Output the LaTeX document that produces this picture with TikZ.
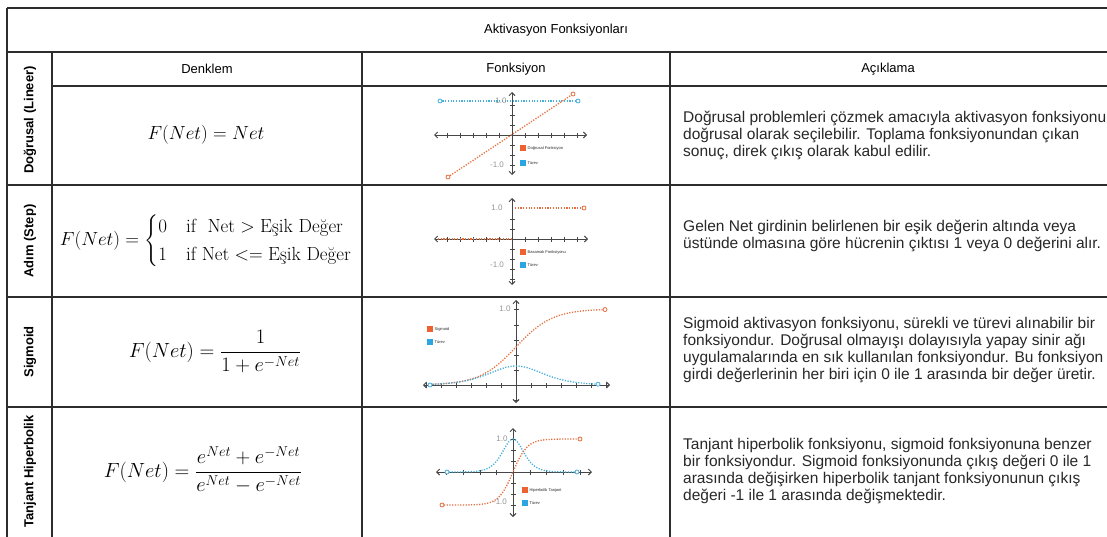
\RequirePackage{fix-cm}
\documentclass[tikz,border=0pt]{standalone}
\usepackage{amsmath}
\usepackage{fontspec}
\setsansfont{Liberation Sans}
\usetikzlibrary{arrows.meta}

\definecolor{gridline}{RGB}{45,45,45}
\definecolor{txt}{RGB}{40,40,40}
\definecolor{curveorange}{RGB}{228,110,62}
\definecolor{curveblue}{RGB}{70,175,220}
\definecolor{keyorange}{RGB}{236,98,48}
\definecolor{keyblue}{RGB}{45,165,225}
\definecolor{axisgray}{RGB}{70,70,70}
\definecolor{labelgray}{RGB}{150,150,150}

\tikzset{
  tbl/.style={draw=gridline, line width=1.3pt},
  toptitle/.style={font=\sffamily\fontsize{13}{15}\selectfont, text=black},
  colhead/.style={font=\sffamily\fontsize{13}{15}\selectfont, text=black},
  rowlabel/.style={rotate=90, font=\sffamily\bfseries\fontsize{13}{15}\selectfont, text=black},
  formula/.style={font=\fontsize{19}{23}\selectfont},
  formulafrac/.style={font=\fontsize{20.5}{25}\selectfont},
  desc/.style={anchor=west, align=left, font=\sffamily\fontsize{15.5}{17}\selectfont, text=txt, inner sep=0pt},
  axis/.style={draw=axisgray, line width=1pt,
    {Straight Barb[length=3pt,width=6pt]}-{Straight Barb[length=3pt,width=6pt]}},
  tick/.style={draw=axisgray, line width=0.8pt},
  dotcurve/.style={line width=1.3pt, dash pattern=on 1.2pt off 1.5pt},
  endring/.style={circle, draw, line width=0.8pt, inner sep=0pt, minimum size=4pt, fill=white},
  keybox/.style={minimum size=6pt, inner sep=0pt},
  keytext/.style={anchor=west, font=\sffamily\fontsize{4}{5}\selectfont, text=txt, inner sep=0.5pt},
  axlabel/.style={font=\sffamily\fontsize{8}{9}\selectfont, text=labelgray, inner sep=0.5pt},
}

\begin{document}
\begin{tikzpicture}[x=1pt, y=-1pt]
\useasboundingbox[fill=white] (0,0) rectangle (1107,536);

% table rules
\draw[tbl] (7,8) -- (1108,8);
\draw[tbl] (7,8) -- (7,537);
\draw[tbl] (7,52) -- (1108,52);
\draw[tbl] (52,52) -- (52,537);
\draw[tbl] (52,86) -- (1108,86);
\draw[tbl] (362,52) -- (362,537);
\draw[tbl] (670,52) -- (670,537);
\draw[tbl] (7,185) -- (1108,185);
\draw[tbl] (7,297) -- (1108,297);
\draw[tbl] (7,407) -- (1108,407);

% titles
\node[toptitle] (title) at (556,30) {Aktivasyon Fonksiyonları};
\node[colhead] (hdenk) at (207,69) {Denklem};
\node[colhead] (hfonk) at (516,69) {Fonksiyon};
\node[colhead] (hacik) at (888,69) {Açıklama};

% row labels
\node[rowlabel] (rlin) at (30,120) {Doğrusal (Lineer)};
\node[rowlabel] (rstep) at (30,241) {Adım (Step)};
\node[rowlabel] (rsig) at (30,352) {Sigmoid};
\node[rowlabel] (rtanh) at (30,471.5) {Tanjant Hiperbolik};

% equations
\node[formula] (eqlin) at (206,135) {$F(Net) = Net$};
\node[formula] (eqstep) at (206,241) {$F(Net) = \begin{cases} 0 & \text{if\ \ Net} > \text{Eşik Değer}\\ 1 & \text{if Net} <= \text{Eşik Değer}\end{cases}$};
\node[formulafrac] (eqsig) at (215,352) {$F(Net) = \dfrac{1}{1+e^{-Net}}$};
\node[formulafrac] (eqtanh) at (203,470) {$F(Net) = \dfrac{e^{Net}+e^{-Net}}{e^{Net}-e^{-Net}}$};

% descriptions
\node[desc] (dlin) at (683,135) {Doğrusal problemleri çözmek amacıyla aktivasyon fonksiyonu\\doğrusal olarak seçilebilir. Toplama fonksiyonundan çıkan\\sonuç, direk çıkış olarak kabul edilir.};
\node[desc] (dstep) at (683,236) {Gelen Net girdinin belirlenen bir eşik değerin altında veya\\üstünde olmasına göre hücrenin çıktısı 1 veya 0 değerini alır.};
\node[desc] (dsig) at (683,350) {Sigmoid aktivasyon fonksiyonu, sürekli ve türevi alınabilir bir\\fonksiyondur. Doğrusal olmayışı dolayısıyla yapay sinir ağı\\uygulamalarında en sık kullanılan fonksiyondur. Bu fonksiyon\\girdi değerlerinin her biri için 0 ile 1 arasında bir değer üretir.};
\node[desc] (dtanh) at (683,471) {Tanjant hiperbolik fonksiyonu, sigmoid fonksiyonuna benzer\\bir fonksiyondur. Sigmoid fonksiyonunda çıkış değeri 0 ile 1\\arasında değişirken hiperbolik tanjant fonksiyonunun çıkış\\değeri -1 ile 1 arasında değişmektedir.};

% linear plot
\begin{scope}[shift={(512,135)}, yscale=-1]
  \draw[axis] (-78,0) -- (75,0);
  \draw[axis] (0,-40) -- (0,43);
  \foreach \t in {-65,-52,-39,-26,-13,13,26,39,52,65} \draw[tick] (\t,-2.5) -- (\t,2.5);
  \foreach \t in {-30,-20,-10,10,20,30} \draw[tick] (-2.5,\t) -- (2.5,\t);
  \node[endring, draw=curveblue] (l1a) at (-72,34) {};
  \node[endring, draw=curveblue] (l1b) at (66,34) {};
  \draw[dotcurve, curveblue] (l1a) -- (l1b);
  \node[endring, draw=curveorange] (l2a) at (-64,-42) {};
  \node[endring, draw=curveorange] (l2b) at (61,41) {};
  \draw[dotcurve, curveorange] (l2a) -- (l2b);
  \node[axlabel] (l1lab) at (-11,34) {1.0};
  \node[axlabel] (l1neg) at (-15,-30) {-1.0};
  \node[keybox, fill=keyorange] (l1ko) at (11,-13) {};
  \node[keytext] (l1kot) at (15,-13) {Doğrusal Fonksiyon};
  \node[keybox, fill=keyblue] (l1kb) at (11,-28) {};
  \node[keytext] (l1kbt) at (15,-28) {Türev};
\end{scope}

% step plot
\begin{scope}[shift={(512,239)}, yscale=-1]
  \draw[axis] (-78,0) -- (76,0);
  \draw[axis] (0,-46) -- (0,41);
  \foreach \t in {-65,-52,-39,-26,-13,13,26,39,52,65} \draw[tick] (\t,-2.5) -- (\t,2.5);
  \foreach \t in {-40,-30,-20,-10,10,20} \draw[tick] (-2.5,\t) -- (2.5,\t);
  \node[endring, draw=curveorange] (s1b) at (72,31) {};
  \coordinate (s1a) at (3,31);
  \draw[dotcurve, curveorange] (s1a) -- (s1b);
  \coordinate (s0a) at (-74,0);
  \coordinate (s0b) at (0,0);
  \draw[dotcurve, curveorange] (s0a) -- (s0b);
  \node[axlabel] (s1lab) at (-15,31) {1.0};
  \node[axlabel] (s1neg) at (-15,-26) {-1.0};
  \node[keybox, fill=keyorange] (s1ko) at (11,-13) {};
  \node[keytext] (s1kot) at (15,-13) {Basamak Fonksiyonu};
  \node[keybox, fill=keyblue] (s1kb) at (11,-26) {};
  \node[keytext] (s1kbt) at (15,-26) {Türev};
\end{scope}

% sigmoid plot
\begin{scope}[shift={(516,385)}, yscale=-1]
  \draw[axis] (-93,0) -- (94,0);
  \draw[axis] (0,-18) -- (0,85);
  \foreach \t in {-90,-75,-60,-45,-30,-15,15,30,45,60,75,90} \draw[tick] (\t,-2.5) -- (\t,2.5);
  \foreach \t in {-15,15,30,45,60,76} \draw[tick] (-2.5,\t) -- (2.5,\t);
  \draw[dotcurve, curveorange, domain=-86:88, samples=80] plot (\x, {76/(1+exp(-0.055*\x))});
  \node[endring, draw=curveorange] (g1b) at (89,{76/(1+exp(-0.055*89))}) {};
  \draw[dotcurve, curveblue, domain=-84:80, samples=80] plot (\x, {76*exp(-0.055*\x)/((1+exp(-0.055*\x))^2)});
  \node[endring, draw=curveblue] (g2a) at (-86,0) {};
  \node[endring, draw=curveblue] (g2b) at (82,{76*exp(-0.055*82)/((1+exp(-0.055*82))^2)}) {};
  \node[axlabel] (g1lab) at (-11,76) {1.0};
  \node[keybox, fill=keyorange] (g1ko) at (-86,56) {};
  \node[keytext] (g1kot) at (-82,56) {Sigmoid};
  \node[keybox, fill=keyblue] (g1kb) at (-86,43) {};
  \node[keytext] (g1kbt) at (-82,43) {Türev};
\end{scope}

% hyperbolic tangent plot
\begin{scope}[shift={(513,472)}, yscale=-1]
  \draw[axis] (-77,0) -- (79,0);
  \draw[axis] (0,-45) -- (0,44);
  \foreach \t in {-67,-50,-33,-17,17,33,50,67} \draw[tick] (\t,-2.5) -- (\t,2.5);
  \foreach \t in {-33,-22,-11,11,22,33} \draw[tick] (-2.5,\t) -- (2.5,\t);
  \draw[dotcurve, curveblue, domain=-64:62, samples=80] plot (\x, {33*(1-tanh(0.07*\x)^2)});
  \node[endring, draw=curveblue] (h2a) at (-66,0) {};
  \node[endring, draw=curveblue] (h2b) at (64,{33*(1-tanh(0.07*64)^2)}) {};
  \draw[dotcurve, curveorange, domain=-69:65, samples=80] plot (\x, {33*tanh(0.07*\x)});
  \node[endring, draw=curveorange] (h1a) at (-71,{33*tanh(-0.07*71)}) {};
  \node[endring, draw=curveorange] (h1b) at (67,{33*tanh(0.07*67)}) {};
  \node[axlabel] (h1lab) at (-11,33) {1.0};
  \node[axlabel] (h1neg) at (-13,-30) {-1.0};
  \node[keybox, fill=keyorange] (h1ko) at (12,-18) {};
  \node[keytext] (h1kot) at (16,-18) {Hiperbolik Tanjant};
  \node[keybox, fill=keyblue] (h1kb) at (12,-31) {};
  \node[keytext] (h1kbt) at (16,-31) {Türev};
\end{scope}
\end{tikzpicture}
\end{document}
